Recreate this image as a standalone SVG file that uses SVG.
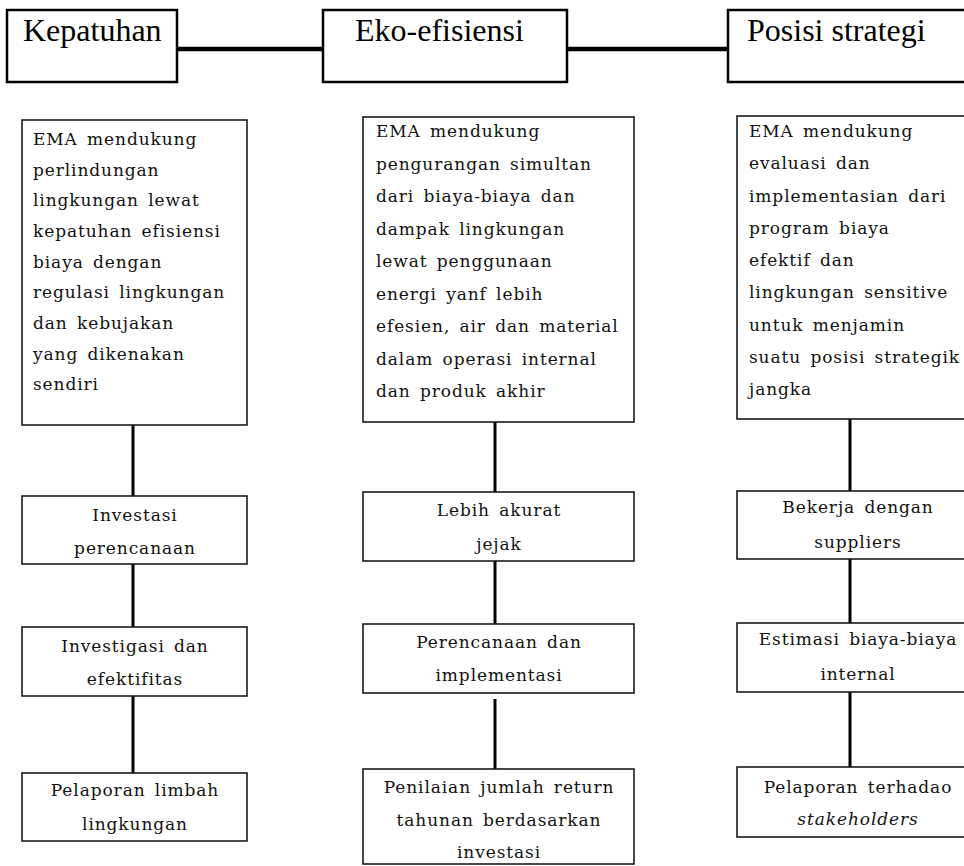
<svg xmlns="http://www.w3.org/2000/svg" width="964" height="866" viewBox="0 0 964 866">
  <style>
    .head { fill: #fff; stroke: #000; stroke-width: 2.5; }
    .box { fill: #fff; stroke: #1a1a1a; stroke-width: 1.6; }
    .htxt { font-family: "Liberation Serif", "Times New Roman", serif; font-size: 32px; fill: #000; }
    .txt { font-family: "DejaVu Serif", "Liberation Serif", serif; font-size: 17px; letter-spacing: 0.9px; word-spacing: 3px; fill: #111; }
    .mid { text-anchor: middle; }
    .link { stroke: #000; stroke-width: 4.5; fill: none; }
    .wire { stroke: #000; stroke-width: 3; fill: none; }
  </style>

  <rect width="964" height="866" fill="#fff"/>

  <!-- connectors -->
  <g id="connectors">
    <line class="link" x1="177" y1="49" x2="323" y2="49"/>
    <line class="link" x1="567" y1="49" x2="728" y2="49"/>
    <!-- left column -->
    <line class="wire" x1="133" y1="425" x2="133" y2="496"/>
    <line class="wire" x1="133" y1="564" x2="133" y2="627"/>
    <line class="wire" x1="133" y1="696" x2="133" y2="773"/>
    <!-- middle column -->
    <line class="wire" x1="495" y1="422" x2="495" y2="492"/>
    <line class="wire" x1="495" y1="561" x2="495" y2="624"/>
    <line class="wire" x1="495" y1="699" x2="495" y2="769"/>
    <!-- right column -->
    <line class="wire" x1="850" y1="419" x2="850" y2="491"/>
    <line class="wire" x1="850" y1="559" x2="850" y2="623"/>
    <line class="wire" x1="850" y1="692" x2="850" y2="767"/>
  </g>

  <!-- headers -->
  <g id="h-kepatuhan">
    <rect class="head" x="7" y="10" width="170" height="72"/>
    <text class="htxt" x="23" y="41">Kepatuhan</text>
  </g>
  <g id="h-eko">
    <rect class="head" x="323" y="10" width="244" height="72"/>
    <text class="htxt" x="355" y="41">Eko-efisiensi</text>
  </g>
  <g id="h-posisi">
    <rect class="head" x="728" y="10" width="250" height="72"/>
    <text class="htxt" x="747" y="41">Posisi strategi</text>
  </g>

  <!-- left column -->
  <g id="k-main">
    <rect class="box" x="22" y="120" width="225" height="305"/>
    <text class="txt" x="33" y="145">EMA mendukung</text>
    <text class="txt" x="33" y="176">perlindungan</text>
    <text class="txt" x="33" y="206">lingkungan lewat</text>
    <text class="txt" x="33" y="237">kepatuhan efisiensi</text>
    <text class="txt" x="33" y="268">biaya dengan</text>
    <text class="txt" x="33" y="298">regulasi lingkungan</text>
    <text class="txt" x="33" y="329">dan kebujakan</text>
    <text class="txt" x="33" y="360">yang dikenakan</text>
    <text class="txt" x="33" y="390">sendiri</text>
  </g>
  <g id="k-1">
    <rect class="box" x="22" y="496" width="225" height="68"/>
    <text class="txt mid" x="135" y="521">Investasi</text>
    <text class="txt mid" x="135" y="554">perencanaan</text>
  </g>
  <g id="k-2">
    <rect class="box" x="22" y="627" width="225" height="69"/>
    <text class="txt mid" x="135" y="652">Investigasi dan</text>
    <text class="txt mid" x="135" y="685">efektifitas</text>
  </g>
  <g id="k-3">
    <rect class="box" x="22" y="773" width="225" height="68"/>
    <text class="txt mid" x="135" y="796">Pelaporan limbah</text>
    <text class="txt mid" x="135" y="830">lingkungan</text>
  </g>

  <!-- middle column -->
  <g id="e-main">
    <rect class="box" x="363" y="117" width="271" height="305"/>
    <text class="txt" x="376" y="137">EMA mendukung</text>
    <text class="txt" x="376" y="170">pengurangan simultan</text>
    <text class="txt" x="376" y="202">dari biaya-biaya dan</text>
    <text class="txt" x="376" y="235">dampak lingkungan</text>
    <text class="txt" x="376" y="267">lewat penggunaan</text>
    <text class="txt" x="376" y="300">energi yanf lebih</text>
    <text class="txt" x="376" y="332">efesien, air dan material</text>
    <text class="txt" x="376" y="365">dalam operasi internal</text>
    <text class="txt" x="376" y="397">dan produk akhir</text>
  </g>
  <g id="e-1">
    <rect class="box" x="363" y="492" width="271" height="69"/>
    <text class="txt mid" x="499" y="516">Lebih akurat</text>
    <text class="txt mid" x="499" y="550">jejak</text>
  </g>
  <g id="e-2">
    <rect class="box" x="363" y="624" width="271" height="69"/>
    <text class="txt mid" x="499" y="648">Perencanaan dan</text>
    <text class="txt mid" x="499" y="681">implementasi</text>
  </g>
  <g id="e-3">
    <rect class="box" x="363" y="769" width="271" height="95"/>
    <text class="txt mid" x="499" y="793">Penilaian jumlah return</text>
    <text class="txt mid" x="499" y="826">tahunan berdasarkan</text>
    <text class="txt mid" x="499" y="858">investasi</text>
  </g>

  <!-- right column -->
  <g id="p-main">
    <rect class="box" x="737" y="116" width="240" height="303"/>
    <text class="txt" x="749" y="137">EMA mendukung</text>
    <text class="txt" x="749" y="169">evaluasi dan</text>
    <text class="txt" x="749" y="202">implementasian dari</text>
    <text class="txt" x="749" y="234">program biaya</text>
    <text class="txt" x="749" y="266">efektif dan</text>
    <text class="txt" x="749" y="298">lingkungan sensitive</text>
    <text class="txt" x="749" y="331">untuk menjamin</text>
    <text class="txt" x="749" y="363">suatu posisi strategik</text>
    <text class="txt" x="749" y="395">jangka</text>
  </g>
  <g id="p-1">
    <rect class="box" x="737" y="491" width="240" height="68"/>
    <text class="txt mid" x="858" y="513">Bekerja dengan</text>
    <text class="txt mid" x="858" y="548">suppliers</text>
  </g>
  <g id="p-2">
    <rect class="box" x="737" y="623" width="240" height="69"/>
    <text class="txt mid" x="858" y="645">Estimasi biaya-biaya</text>
    <text class="txt mid" x="858" y="680">internal</text>
  </g>
  <g id="p-3">
    <rect class="box" x="737" y="767" width="240" height="70"/>
    <text class="txt mid" x="858" y="793">Pelaporan terhadao</text>
    <text class="txt mid" x="858" y="825" font-style="italic">stakeholders</text>
  </g>
</svg>
